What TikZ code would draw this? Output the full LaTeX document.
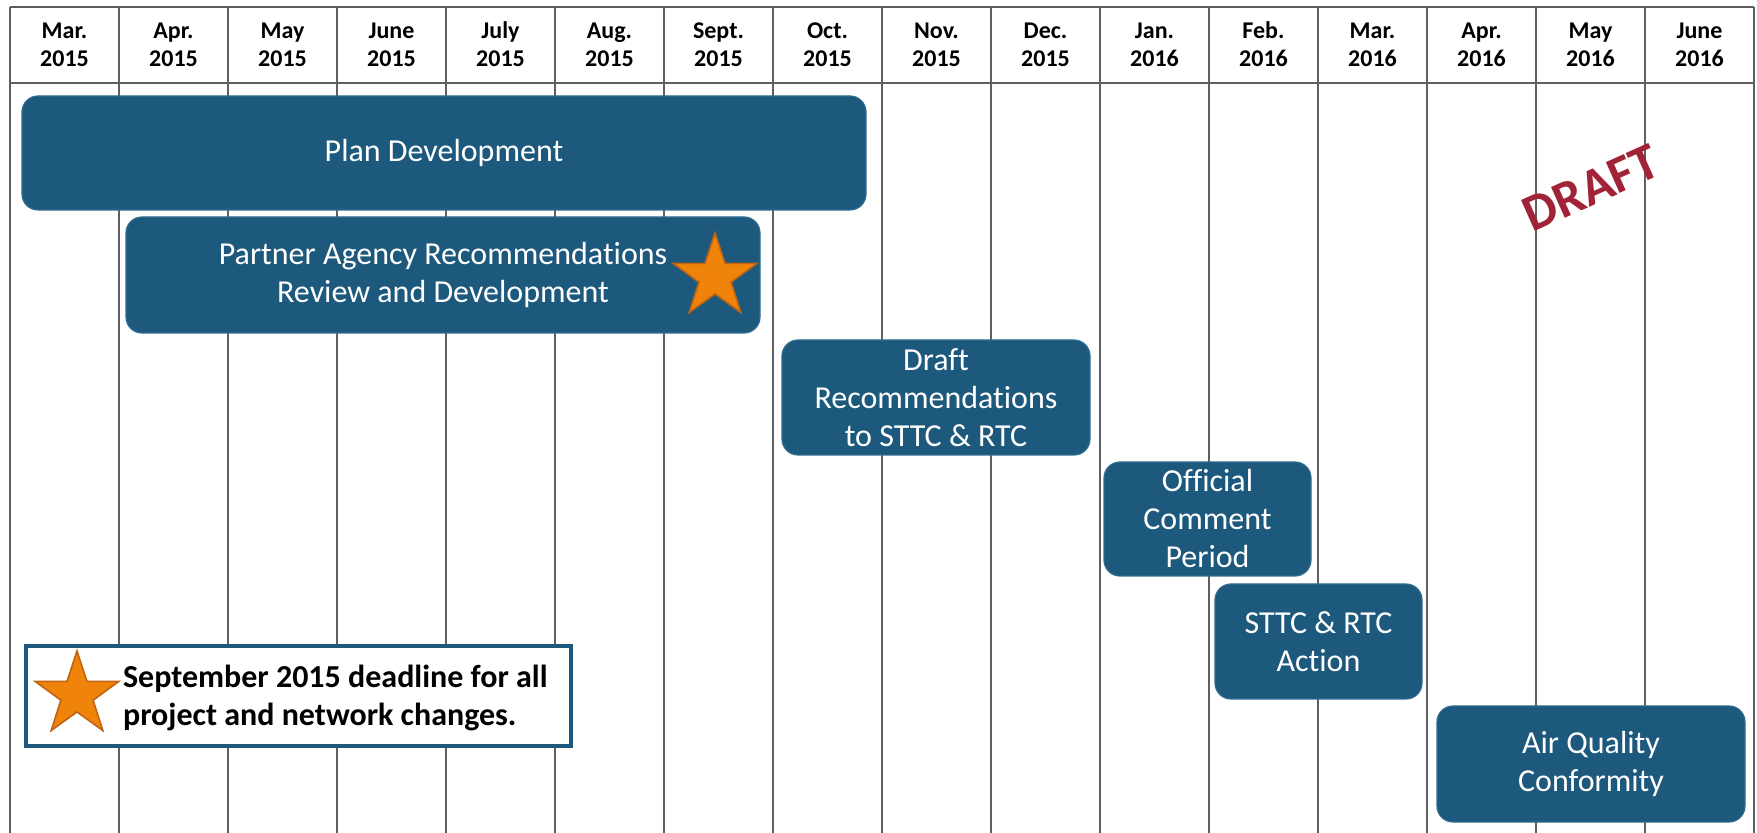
\documentclass[tikz,border=0pt]{standalone}
\usepackage{fontspec}
\setmainfont{Carlito}[Ligatures=NoCommon]
\usetikzlibrary{fit, shapes.geometric}
\definecolor{barblue}{RGB}{29,89,124}
\definecolor{edgeblue}{RGB}{48,108,144}
\definecolor{gridgray}{RGB}{95,95,95}
\definecolor{starorange}{RGB}{240,131,10}
\definecolor{stardark}{RGB}{190,100,20}
\definecolor{draftred}{RGB}{160,35,55}

\begin{document}
\begin{tikzpicture}[x=0.5pt, y=-0.5pt,
    bar/.style={rounded corners=8pt, fill=barblue, draw=edgeblue, line width=0.6pt, inner sep=0pt},
    bartext/.style={text=white, align=center, font=\fontsize{16}{19}\selectfont},
    month/.style={align=center, font=\bfseries\fontsize{12}{14}\selectfont},
    deadline/.style={star, star points=5, star point ratio=2.6, fill=starorange, draw=stardark,
        line width=0.8pt, inner sep=0pt, minimum size=44pt}]
    \useasboundingbox (0,0) rectangle (1757,833);
    % Month grid
    \draw [gridgray, line width=1pt] (10,7) -- (1754,7) (10,83) -- (1754,83);
    \foreach \i/\m/\y in {0/Mar./2015, 1/Apr./2015, 2/May/2015, 3/June/2015, 4/July/2015,
        5/Aug./2015, 6/Sept./2015, 7/Oct./2015, 8/Nov./2015, 9/Dec./2015, 10/Jan./2016,
        11/Feb./2016, 12/Mar./2016, 13/Apr./2016, 14/May/2016, 15/June/2016} {
        \draw [gridgray, line width=1pt] ({10+109*\i},7) -- ({10+109*\i},833);
        \node [month] (m\i) at ({64.5+109*\i},47) {\strut\m\\\strut\y};
    }
    \draw [gridgray, line width=1pt] (1754,7) -- (1754,833);
    % Bars
    \node [bar, fit={(22,96) (866,210)}] (plan) {};
    \node [bartext] (plantext) at (plan) {Plan Development};
    \node [bar, fit={(126,217) (760,333)}] (partner) {};
    \node [bartext] (partnertext) at (partner) {Partner Agency Recommendations\\Review and Development};
    \node [deadline] (sept) at (715,277) {};
    \node [bar, fit={(782,340) (1090,455)}] (draftrec) {};
    \node [bartext] (draftrectext) at (draftrec) {Draft\\Recommendations\\to STTC \& RTC};
    \node [bar, fit={(1104,462) (1311,576)}] (comment) {};
    \node [bartext] (commenttext) at (comment) {Official\\Comment\\Period};
    \node [bar, fit={(1215,584) (1422,699)}] (action) {};
    \node [bartext] (actiontext) at (action) {STTC \& RTC\\Action};
    \node [bar, fit={(1437,706) (1745,822)}] (airq) {};
    \node [bartext] (airqtext) at (airq) {Air Quality\\Conformity};
    % Draft stamp
    \node [rotate=24, text=draftred, font=\bfseries\fontsize{26}{30}\selectfont] (draft) at (1591,188) {DRAFT};
    % Legend
    \node [draw=barblue, line width=2pt, fill=white, inner sep=0pt, fit={(26,646) (571,746)}] (legend) {};
    \node [deadline] (legendstar) at (77,695) {};
    \node [anchor=west, align=left, font=\bfseries\fontsize{16}{19}\selectfont] (legendtext) at (116,698)
        {September 2015 deadline for all\\project and network changes.};
\end{tikzpicture}
\end{document}
